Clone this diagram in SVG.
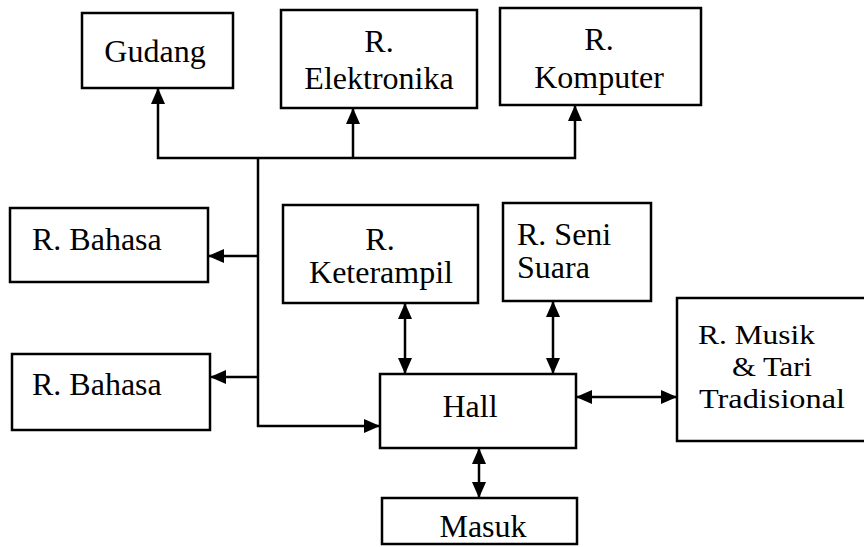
<svg xmlns="http://www.w3.org/2000/svg" width="864" height="547" viewBox="0 0 864 547">
<style>
.box{fill:#fff;stroke:#000;stroke-width:2.5}
.t{font-family:"Liberation Serif","Times New Roman",serif;font-size:32px;fill:#000}
.m{font-size:28px}
.c{text-anchor:middle}
.ln{fill:none;stroke:#000;stroke-width:2.5}
</style>
<defs>
<marker id="ah" markerUnits="userSpaceOnUse" markerWidth="16" markerHeight="14" viewBox="0 0 16 14" refX="16" refY="7" orient="auto-start-reverse">
<path d="M0,0 L16,7 L0,14 Z" fill="#000"/>
</marker>
</defs>
<rect width="864" height="547" fill="#fff"/>
<g id="connectors">
<polyline class="ln" points="258,158 258,426 380,426" marker-end="url(#ah)"/>
<polyline class="ln" points="158,88 158,158 575,158 575,105" marker-start="url(#ah)" marker-end="url(#ah)"/>
<line class="ln" x1="353" y1="158" x2="353" y2="108" marker-end="url(#ah)"/>
<line class="ln" x1="258" y1="256" x2="208" y2="256" marker-end="url(#ah)"/>
<line class="ln" x1="258" y1="377" x2="210" y2="377" marker-end="url(#ah)"/>
<line class="ln" x1="405" y1="303" x2="405" y2="374" marker-start="url(#ah)" marker-end="url(#ah)"/>
<line class="ln" x1="553" y1="301" x2="553" y2="374" marker-start="url(#ah)" marker-end="url(#ah)"/>
<line class="ln" x1="576" y1="397" x2="677" y2="397" marker-start="url(#ah)" marker-end="url(#ah)"/>
<line class="ln" x1="479" y1="448" x2="479" y2="498" marker-start="url(#ah)" marker-end="url(#ah)"/>
</g>
<g id="gudang"><rect class="box" x="82" y="13" width="151" height="75"/><text class="t c" x="155" y="62">Gudang</text></g>
<g id="elektronika"><rect class="box" x="281" y="10" width="196" height="98"/><text class="t c" x="379" y="52">R.</text><text class="t c" x="379" y="89">Elektronika</text></g>
<g id="komputer"><rect class="box" x="500" y="8" width="201" height="97"/><text class="t c" x="599" y="50">R.</text><text class="t c" x="599" y="88">Komputer</text></g>
<g id="bahasa1"><rect class="box" x="10" y="208" width="198" height="74"/><text class="t" x="32" y="250">R. Bahasa</text></g>
<g id="bahasa2"><rect class="box" x="12" y="354" width="198" height="76"/><text class="t" x="32" y="395">R. Bahasa</text></g>
<g id="keterampil"><rect class="box" x="283" y="205" width="195" height="98"/><text class="t c" x="380" y="250">R.</text><text class="t c" x="381" y="283">Keterampil</text></g>
<g id="seni"><rect class="box" x="503" y="203" width="148" height="98"/><text class="t" x="517" y="245">R. Seni</text><text class="t" x="517" y="278">Suara</text></g>
<g id="hall"><rect class="box" x="380" y="374" width="196" height="74"/><text class="t c" x="470" y="417">Hall</text></g>
<g id="musik"><rect class="box" x="677" y="298" width="190" height="143"/><text class="t m" x="698" y="344" textLength="117" lengthAdjust="spacingAndGlyphs">R. Musik</text><text class="t m" x="732" y="376" textLength="80" lengthAdjust="spacingAndGlyphs">&amp; Tari</text><text class="t m" x="699" y="408" textLength="146" lengthAdjust="spacingAndGlyphs">Tradisional</text></g>
<g id="masuk"><rect class="box" x="382" y="498" width="195" height="46"/><text class="t c" x="483" y="537">Masuk</text></g>
</svg>
